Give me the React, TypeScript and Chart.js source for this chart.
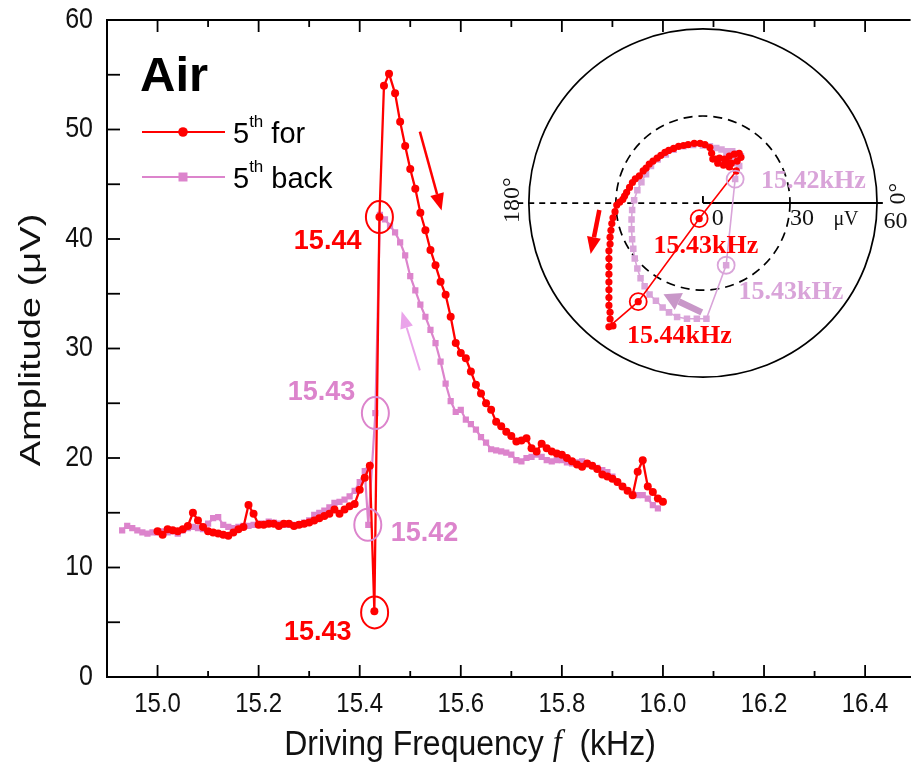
import React, { useEffect, useRef } from 'react';
import { Chart, registerables } from 'chart.js';
Chart.register(...registerables);

const RED = '#ff0000';
const PINK = '#dc84cc';
const PINK_LIGHT = '#d9a4d9';
const SANS = '"Liberation Sans", Arial, sans-serif';
const SERIF = '"Liberation Serif", "Times New Roman", serif';

// ---------- main plot data (kHz, µV) ----------
const forwardFreq = [
  15.00, 15.01, 15.02, 15.03, 15.04, 15.05, 15.06, 15.07, 15.08, 15.09,
  15.10, 15.11, 15.12, 15.13, 15.14, 15.15, 15.16, 15.17, 15.18, 15.19,
  15.20, 15.21, 15.22, 15.23, 15.24, 15.25, 15.26, 15.27, 15.28, 15.29,
  15.30, 15.31, 15.32, 15.33, 15.34, 15.35, 15.36, 15.37, 15.38, 15.39,
  15.40, 15.41, 15.42, 15.429, 15.439, 15.448, 15.458, 15.47, 15.48, 15.49,
  15.50, 15.51, 15.52, 15.53, 15.54, 15.55, 15.56, 15.57, 15.58, 15.59,
  15.60, 15.61, 15.62, 15.63, 15.64, 15.65, 15.66, 15.67, 15.68, 15.69,
  15.70, 15.71, 15.72, 15.73, 15.74, 15.75, 15.76, 15.77, 15.78, 15.79,
  15.80, 15.81, 15.82, 15.83, 15.84, 15.85, 15.86, 15.87, 15.88, 15.89,
  15.90, 15.91, 15.92, 15.93, 15.94, 15.95, 15.96, 15.97, 15.98, 15.99, 16.00,
];
const forwardAmp = [
  13.3, 13.0, 13.5, 13.4, 13.3, 13.5, 13.8, 15.0, 14.3, 13.7,
  13.3, 13.2, 13.1, 13.0, 12.9, 13.2, 13.5, 13.7, 15.7, 14.9,
  13.9, 13.9, 14.0, 14.0, 13.8, 14.0, 14.0, 13.8, 13.9, 14.0,
  14.1, 14.3, 14.5, 14.7, 14.9, 15.3, 14.9, 15.3, 15.6, 15.8,
  17.1, 18.2, 19.3, 6.0, 42.0, 54.0, 55.1, 53.3, 50.7, 48.5,
  46.4, 44.6, 42.4, 40.8, 39.0, 37.6, 36.1, 34.9, 32.9, 30.5,
  29.6, 29.1, 27.9, 26.7, 25.9, 25.0, 24.4, 23.3, 22.9, 22.4,
  22.0, 21.5, 21.6, 21.8, 20.9, 20.6, 21.3, 20.9, 20.6, 20.4,
  20.3, 20.0, 19.7, 19.4, 19.2, 19.5, 19.3, 19.0, 18.5, 18.3,
  18.1, 17.8, 17.4, 17.0, 16.6, 18.75, 19.8, 17.4, 16.9, 16.3, 16.0,
];
const backFreq = [
  14.93, 14.94, 14.95, 14.96, 14.97, 14.98, 14.99, 15.00, 15.01, 15.02,
  15.03, 15.04, 15.05, 15.06, 15.07, 15.08, 15.09, 15.10, 15.11, 15.12,
  15.13, 15.14, 15.15, 15.16, 15.17, 15.18, 15.19, 15.20, 15.21, 15.22,
  15.23, 15.24, 15.25, 15.26, 15.27, 15.28, 15.29, 15.30, 15.31, 15.32,
  15.33, 15.34, 15.35, 15.36, 15.37, 15.38, 15.39, 15.40, 15.41, 15.417,
  15.431, 15.44, 15.45, 15.46, 15.47, 15.48, 15.49, 15.50, 15.51, 15.52,
  15.53, 15.54, 15.55, 15.56, 15.57, 15.58, 15.59, 15.60, 15.61, 15.62,
  15.63, 15.64, 15.65, 15.66, 15.67, 15.68, 15.69, 15.70, 15.71, 15.72,
  15.73, 15.74, 15.75, 15.76, 15.77, 15.78, 15.79, 15.80, 15.81, 15.82,
  15.83, 15.84, 15.85, 15.86, 15.87, 15.88, 15.89, 15.90, 15.91, 15.92,
  15.93, 15.94, 15.95, 15.96, 15.97, 15.98, 15.99,
];
const backAmp = [
  13.4, 13.8, 13.6, 13.4, 13.2, 13.1, 13.2, 13.2, 13.3, 13.2,
  13.3, 13.1, 13.4, 13.6, 13.7, 13.6, 13.5, 14.0, 14.5, 14.6,
  13.9, 13.7, 13.6, 13.7, 13.8, 13.8, 13.9, 14.0, 14.0, 14.2,
  14.1, 14.0, 13.9, 13.9, 13.9, 13.9, 14.1, 14.3, 14.8, 15.0,
  15.2, 15.5, 15.9, 16.0, 16.2, 16.5, 17.0, 17.8, 18.8, 13.9,
  24.1, 42.2, 41.8, 41.2, 40.6, 39.7, 38.5, 36.6, 35.3, 34.0,
  32.9, 31.7, 30.5, 28.8, 26.8, 25.2, 24.2, 24.4, 23.5, 23.1,
  22.6, 21.9, 21.4, 20.8, 20.7, 20.6, 20.5, 20.3, 19.8, 19.7,
  20.0, 20.1, 20.3, 20.1, 19.8, 19.7, 19.8, 19.8, 19.6, 19.5,
  19.6, 19.7, 19.5, 19.3, 19.1, 18.9, 18.7, 18.3, 17.8, 17.4,
  17.0, 16.7, 16.6, 16.6, 16.3, 15.7, 15.4,
];

const xMajorTicks = [15.0, 15.2, 15.4, 15.6, 15.8, 16.0, 16.2, 16.4];
const xTickLabels = ['15.0', '15.2', '15.4', '15.6', '15.8', '16.0', '16.2', '16.4'];
const xMinorTicks = [15.1, 15.3, 15.5, 15.7, 15.9, 16.1, 16.3];
const yMajorTicks = [0, 10, 20, 30, 40, 50, 60];
const yTickLabels = ['0', '10', '20', '30', '40', '50', '60'];
const yMinorTicks = [5, 15, 25, 35, 45, 55];

// circled points in the main plot
const markFreq = [15.439, 15.4295, 15.431, 15.416];
const markAmp = [42.0, 5.9, 24.1, 13.9];
const markLabel = ['15.44', '15.43', '15.43', '15.42'];
const markIsForward = [true, true, false, false];

// ---------- inset (polar plot of in-phase X / quadrature Y, µV) ----------
const insetForX = [7.4, 9.1, 10.8, 12.5, 13.1, 11.8, 9.8, 8.1, 5.7, 4.4, 5.1, 7.1, 9.1, 11.5,
  -1.3, -22.3, -32.4, -31.0,
  -32.0, -32.0, -32.4, -32.4, -32.4, -32.4, -32.4, -32.4, -32.4, -32.4, -32.0, -32.0, -31.7, -31.4, -31.0, -30.3, -29.7,
  -28.7, -27.6, -27.0, -26.3, -25.3, -24.3, -23.3, -21.9, -20.6, -19.6, -18.5, -17.2, -15.8, -14.5, -13.1, -11.8,
  -10.1, -8.4, -6.7, -5.1, -3.0, -1.0, 0.7, 2.4, 3.0, 3.4];
const insetForY = [15.2, 16.2, 16.9, 17.2, 15.8, 14.5, 13.8, 14.5, 15.5, 15.2, 13.8, 13.1, 12.5, 11.1,
  -5.4, -34.1, -42.8, -42.5,
  -40.1, -37.8, -35.4, -32.7, -30.0, -27.3, -24.6, -21.9, -19.2, -16.5, -14.2, -11.8, -9.4, -7.1, -5.1, -3.0, -0.7,
  0.3, 1.3, 2.4, 3.7, 5.4, 7.1, 8.4, 9.4, 11.1, 12.1, 13.5, 14.5, 15.5, 16.5, 17.5, 18.2,
  18.9, 19.6, 19.9, 20.2, 20.6, 20.6, 20.2, 19.2, 17.2, 15.2];
const insetBackX = [6.4, 8.4, 10.1, 8.4, 6.4, 4.6, 2.4, 0.0,
  -3.4, -6.7, -10.1, -12.8, -15.6, -17.9, -19.6, -21.2, -22.6, -23.7,
  -24.4, -24.6, -24.6, -24.4, -24.0, -23.5, -22.6, -21.5, -20.1, -18.4,
  -16.2, -13.9, -11.7, -8.9, -5.5, -2.1, 1.2,
  8.0, 11.1,
  12.5, 11.5, 9.8, 8.1, 10.1, 11.8, 13.1, 11.1, 9.1];
const insetBackY = [14.5, 15.8, 16.9, 17.9, 18.5, 19.0, 19.6, 19.9,
  20.1, 19.6, 18.4, 16.8, 15.1, 12.8, 10.0, 7.2, 4.4, 1.0,
  -2.4, -5.7, -9.1, -12.5, -15.8, -19.2, -22.6, -26.0, -28.8, -31.6,
  -33.8, -36.1, -37.8, -39.4, -40.0, -40.0, -40.0,
  -21.5, 8.3,
  12.8, 15.2, 16.5, 17.2, 17.9, 17.2, 16.2, 13.8, 14.5];
const insetMarkX = [-1.3, -22.3, 8.0, 11.1];
const insetMarkY = [-5.4, -34.1, -21.5, 8.3];
const insetMarkIsForward = [true, true, false, false];
const insetLabelText = ['15.43kHz', '15.44kHz', '15.43kHz', '15.42kHz'];
const insetLabelX = [1.0, -8.1, 30.3, 38.1];
const insetLabelY = [-14.8, -46.2, -31.0, 7.4];
const insetRings = [30, 60];
const insetRingLabels = ['0', '30', '60'];
const insetRangeX = [-71.8, 71.5];
const insetRangeY = [-63.05, 61.7];

// ---------- drawing helpers ----------
function txt(ctx: CanvasRenderingContext2D, s: string, x: number, y: number, font: string, color: string,
  align: CanvasTextAlign = 'left', baseline: CanvasTextBaseline = 'alphabetic', ky = 1, rot = 0) {
  ctx.save();
  ctx.translate(x, y);
  ctx.scale(1, ky);
  if (rot) ctx.rotate(rot);
  ctx.font = font;
  ctx.fillStyle = color;
  ctx.textAlign = align;
  ctx.textBaseline = baseline;
  ctx.fillText(s, 0, 0);
  ctx.restore();
}

function line(ctx: CanvasRenderingContext2D, x1: number, y1: number, x2: number, y2: number) {
  ctx.beginPath();
  ctx.moveTo(x1, y1);
  ctx.lineTo(x2, y2);
  ctx.stroke();
}

function arrow(ctx: CanvasRenderingContext2D, x1: number, y1: number, x2: number, y2: number,
  lw: number, headLen: number, headW: number, color: string) {
  const a = Math.atan2(y2 - y1, x2 - x1);
  const bx = x2 - headLen * Math.cos(a);
  const by = y2 - headLen * Math.sin(a);
  ctx.save();
  ctx.strokeStyle = color;
  ctx.fillStyle = color;
  ctx.lineWidth = lw;
  ctx.lineCap = 'butt';
  line(ctx, x1, y1, bx, by);
  ctx.beginPath();
  ctx.moveTo(x2, y2);
  ctx.lineTo(bx + (headW / 2) * Math.sin(a), by - (headW / 2) * Math.cos(a));
  ctx.lineTo(bx - (headW / 2) * Math.sin(a), by + (headW / 2) * Math.cos(a));
  ctx.closePath();
  ctx.fill();
  ctx.restore();
}

const mainDecor = {
  id: 'mainDecor',
  afterDraw(chart: any) {
    const { ctx, chartArea: ca, scales } = chart;
    const xs = scales.x, ys = scales.y;
    const X = (v: number) => xs.getPixelForValue(v);
    const Y = (v: number) => ys.getPixelForValue(v);
    ctx.save();
    ctx.strokeStyle = '#000';
    ctx.lineWidth = 2;
    line(ctx, ca.left - 1, ca.top, ca.right, ca.top);
    ctx.lineWidth = 1.8;
    xMajorTicks.forEach((v) => {
      line(ctx, X(v), ca.bottom, X(v), ca.bottom - 12);
      line(ctx, X(v), ca.top, X(v), ca.top + 12);
    });
    xMinorTicks.forEach((v) => {
      line(ctx, X(v), ca.bottom, X(v), ca.bottom - 6);
      line(ctx, X(v), ca.top, X(v), ca.top + 7);
    });
    [...yMajorTicks, ...yMinorTicks].forEach((v) => {
      line(ctx, ca.left, Y(v), ca.left + 13, Y(v));
    });

    // tick labels
    xMajorTicks.forEach((v, i) => txt(ctx, xTickLabels[i], X(v), ca.bottom + 27, `24px ${SANS}`, '#111', 'center', 'middle', 1.18));
    yMajorTicks.forEach((v, i) => txt(ctx, yTickLabels[i], ca.left - 14, Y(v), `25px ${SANS}`, '#111', 'right', 'middle', 1.15));

    // axis titles
    txt(ctx, 'Amplitude (\u03bcV)', 32, 340, `30px ${SANS}`, '#111', 'center', 'middle', 1.27, -Math.PI / 2);
    {
      const f1 = `32px ${SANS}`, f2 = `italic 32px ${SERIF}`;
      const a = 'Driving Frequency ', b = 'f', c = '  (kHz)';
      ctx.font = f1; const wa = ctx.measureText(a).width; const wc = ctx.measureText(c).width;
      ctx.font = f2; const wb = ctx.measureText(b).width;
      let x0 = 470 - (wa + wb + wc) / 2;
      const yT = 745;
      txt(ctx, a, x0, yT, f1, '#111', 'left', 'middle', 1.12); x0 += wa;
      txt(ctx, b, x0, yT, f2, '#111', 'left', 'middle', 1.12); x0 += wb;
      txt(ctx, c, x0, yT, f1, '#111', 'left', 'middle', 1.12);
    }

    // circled points + labels
    const labelOff = [[-18, 24, 'right'], [-23, 20, 'right'], [-20, -21, 'right'], [23, 9, 'left']];
    markFreq.forEach((f, i) => {
      const px = X(f), py = Y(markAmp[i]);
      const col = markIsForward[i] ? RED : PINK;
      ctx.strokeStyle = col;
      ctx.lineWidth = 2;
      ctx.beginPath();
      ctx.ellipse(px, py, 13.5, 16, 0, 0, Math.PI * 2);
      ctx.stroke();
      const [dx, dy, al] = labelOff[i] as [number, number, CanvasTextAlign];
      txt(ctx, markLabel[i], px + dx, py + dy, `bold 27px ${SANS}`, col, al, 'middle');
    });

    // sweep direction arrows
    arrow(ctx, X(15.519), Y(49.8), X(15.562), Y(42.6), 2.5, 17, 14, RED);
    arrow(ctx, X(15.519), Y(28.0), X(15.483), Y(33.4), 2, 17, 13, '#eaa4ea');

    // "Air" and legend
    txt(ctx, 'Air', 140, 91, `bold 49px ${SANS}`, '#000', 'left', 'alphabetic');
    const legend = [
      { y: 132, col: RED, rect: false, word: ' for' },
      { y: 177, col: PINK, rect: true, word: ' back' },
    ];
    legend.forEach((L) => {
      ctx.strokeStyle = L.col;
      ctx.fillStyle = L.col;
      ctx.lineWidth = 2.2;
      line(ctx, 142, L.y, 225, L.y);
      ctx.beginPath();
      if (L.rect) ctx.rect(183 - 4.5, L.y - 4.5, 9, 9);
      else ctx.arc(183, L.y, 4.8, 0, Math.PI * 2);
      ctx.fill();
      ctx.font = `29px ${SANS}`;
      txt(ctx, '5', 233, L.y + 11, `29px ${SANS}`, '#000');
      const w5 = ctx.measureText('5').width;
      ctx.font = `17px ${SANS}`;
      txt(ctx, 'th', 233 + w5, L.y - 5, `17px ${SANS}`, '#000');
      const wth = ctx.measureText('th').width;
      txt(ctx, L.word, 233 + w5 + wth, L.y + 11, `29px ${SANS}`, '#000');
    });
    ctx.restore();
  },
};

const insetDecor = {
  id: 'insetDecor',
  beforeDatasetsDraw(chart: any) {
    const { ctx, scales } = chart;
    const X = (v: number) => scales.x.getPixelForValue(v);
    const Y = (v: number) => scales.y.getPixelForValue(v);
    const cx = X(0), cy = Y(0);
    const k = X(1) - X(0);
    ctx.save();
    ctx.strokeStyle = '#000';
    ctx.lineWidth = 1.7;
    ctx.beginPath();
    ctx.arc(cx, cy, insetRings[1] * k, 0, Math.PI * 2);
    ctx.stroke();
    ctx.setLineDash([9, 6]);
    ctx.beginPath();
    ctx.arc(cx, cy, insetRings[0] * k, 0, Math.PI * 2);
    ctx.stroke();
    ctx.setLineDash([6, 5]);
    line(ctx, X(-64), cy, cx, cy);
    ctx.setLineDash([]);
    ctx.lineWidth = 1.9;
    line(ctx, cx, cy, X(62), cy);
    line(ctx, cx, cy, cx, cy - 7);
    txt(ctx, insetRingLabels[0], X(5.1), Y(-5.4), `24px ${SERIF}`, '#111', 'center', 'middle');
    txt(ctx, insetRingLabels[1], X(34.1), Y(-5.4), `24px ${SERIF}`, '#111', 'center', 'middle');
    txt(ctx, '\u03bcV', X(49.3), Y(-5.7), `20px ${SERIF}`, '#111', 'center', 'middle');
    txt(ctx, insetRingLabels[2], X(66.4), Y(-6.4), `24px ${SERIF}`, '#111', 'center', 'middle');
    txt(ctx, '180\u00b0', X(-65.6), Y(1.0), `24px ${SERIF}`, '#111', 'center', 'middle', 1, -Math.PI / 2);
    txt(ctx, '0\u00b0', X(67.4), Y(3.2), `24px ${SERIF}`, '#111', 'center', 'middle', 1, -Math.PI / 2);
    ctx.restore();
  },
  afterDatasetsDraw(chart: any) {
    const { ctx, scales } = chart;
    const X = (v: number) => scales.x.getPixelForValue(v);
    const Y = (v: number) => scales.y.getPixelForValue(v);
    ctx.save();
    insetMarkX.forEach((mx, i) => {
      ctx.strokeStyle = insetMarkIsForward[i] ? RED : PINK_LIGHT;
      ctx.lineWidth = 1.8;
      ctx.beginPath();
      ctx.arc(X(mx), Y(insetMarkY[i]), 8.5, 0, Math.PI * 2);
      ctx.stroke();
    });
    insetLabelText.forEach((s, i) => {
      txt(ctx, s, X(insetLabelX[i]), Y(insetLabelY[i]), `bold 26px ${SERIF}`, i < 2 ? RED : PINK_LIGHT, 'center', 'middle');
    });
    arrow(ctx, X(-35.7), Y(-2.4), X(-38.7), Y(-17.6), 4.5, 17, 14, RED);
    arrow(ctx, X(-0.4), Y(-37.8), X(-13.6), Y(-31.5), 6.5, 17, 19, '#c897c8');
    ctx.restore();
  },
};

export default function App() {
  const mainRef = useRef<HTMLCanvasElement | null>(null);
  const insetRef = useRef<HTMLCanvasElement | null>(null);

  useEffect(() => {
    if (!mainRef.current || !insetRef.current) return;
    const main = new Chart(mainRef.current, {
      type: 'line',
      data: {
        datasets: [
          {
            label: '5th for',
            data: forwardFreq.map((f, i) => ({ x: f, y: forwardAmp[i] })),
            borderColor: RED,
            backgroundColor: RED,
            borderWidth: 2.3,
            pointStyle: 'circle',
            pointRadius: 4,
            pointBorderWidth: 0,
            tension: 0,
          },
          {
            label: '5th back',
            data: backFreq.map((f, i) => ({ x: f, y: backAmp[i] })),
            borderColor: PINK,
            backgroundColor: PINK,
            borderWidth: 2.2,
            pointStyle: 'rect',
            pointRadius: 4.4,
            pointBorderWidth: 0,
            tension: 0,
          },
        ],
      },
      options: {
        responsive: false,
        animation: false,
        layout: { padding: { top: 20, left: 0, right: 0, bottom: 0 } },
        plugins: { legend: { display: false }, tooltip: { enabled: false } },
        scales: {
          x: {
            type: 'linear',
            min: 14.9,
            max: 16.49,
            grid: { display: false, drawTicks: false },
            border: { display: true, color: '#000', width: 2 },
            ticks: { display: false },
            afterFit: (s: any) => { s.height = 95; },
          },
          y: {
            type: 'linear',
            min: 0,
            max: 60,
            grid: { display: false, drawTicks: false },
            border: { display: true, color: '#000', width: 2 },
            ticks: { display: false },
            afterFit: (s: any) => { s.width = 107; },
          },
        },
      },
      plugins: [mainDecor],
    } as any);

    const inset = new Chart(insetRef.current, {
      type: 'scatter',
      data: {
        datasets: [
          {
            data: insetForX.map((x, i) => ({ x, y: insetForY[i] })),
            showLine: true,
            borderColor: RED,
            backgroundColor: RED,
            borderWidth: 1.6,
            pointStyle: 'circle',
            pointRadius: 3.6,
            pointBorderWidth: 0,
          },
          {
            data: insetBackX.map((x, i) => ({ x, y: insetBackY[i] })),
            showLine: true,
            borderColor: PINK_LIGHT,
            backgroundColor: PINK_LIGHT,
            borderWidth: 1.6,
            pointStyle: 'rect',
            pointRadius: 4.6,
            pointBorderWidth: 0,
          },
        ],
      },
      options: {
        responsive: false,
        animation: false,
        layout: { padding: 0 },
        plugins: { legend: { display: false }, tooltip: { enabled: false } },
        scales: {
          x: { type: 'linear', min: insetRangeX[0], max: insetRangeX[1], display: false },
          y: { type: 'linear', min: insetRangeY[0], max: insetRangeY[1], display: false },
        },
      },
      plugins: [insetDecor],
    } as any);

    return () => {
      main.destroy();
      inset.destroy();
    };
  }, []);

  return (
    <div style={{ position: 'fixed', left: 0, top: 0, width: 915, height: 772, background: '#fff' }}>
      <canvas ref={mainRef} width={915} height={772} style={{ position: 'absolute', left: 0, top: 0 }} />
      <canvas ref={insetRef} width={425} height={370} style={{ position: 'absolute', left: 490, top: 20 }} />
    </div>
  );
}
